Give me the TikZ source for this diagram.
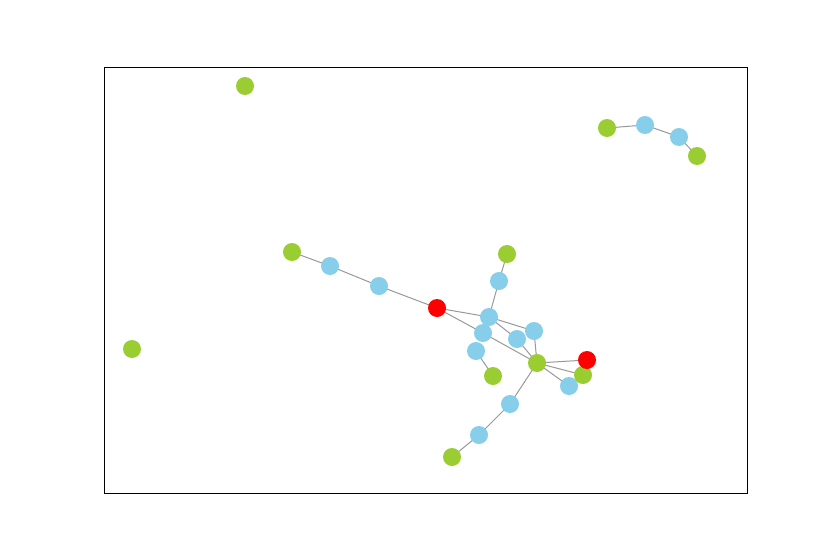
\documentclass[tikz,border=0pt]{standalone}
\definecolor{sky}{HTML}{87CEEB}
\definecolor{ygreen}{HTML}{9ACD32}
\definecolor{edgegray}{HTML}{999999}
\tikzset{
  nb/.style={circle,fill=sky,draw=none,minimum size=18pt,inner sep=0pt},
  ng/.style={circle,fill=ygreen,draw=none,minimum size=18pt,inner sep=0pt},
  nr/.style={circle,fill=red,draw=none,minimum size=18pt,inner sep=0pt},
  edge/.style={draw=edgegray,line width=1pt}
}
\begin{document}
\begin{tikzpicture}[x=1pt,y=-1pt]
\useasboundingbox (0,0) rectangle (830,554);
\fill[white] (0,0) rectangle (830,554);
\draw[line width=0.8pt] (104,67) rectangle (747,493);
% coordinates
\coordinate (cG1) at (245,86);
\coordinate (cG2) at (607,128);
\coordinate (cB1) at (645,125);
\coordinate (cB2) at (679,137);
\coordinate (cG3) at (697,156);
\coordinate (cG4) at (292,252);
\coordinate (cB3) at (330,266);
\coordinate (cB4) at (379,286);
\coordinate (cR1) at (437,308);
\coordinate (cG5) at (132,349);
\coordinate (cG6) at (507,254);
\coordinate (cB5) at (499,281);
\coordinate (cB6) at (489,317);
\coordinate (cB7) at (483,333);
\coordinate (cB8) at (476,351);
\coordinate (cG7) at (493,376);
\coordinate (cB9) at (517,339);
\coordinate (cB10) at (534,331);
\coordinate (cG8) at (537,363);
\coordinate (cR2) at (587,360);
\coordinate (cG9) at (583,375);
\coordinate (cB11) at (569,386);
\coordinate (cB12) at (510,404);
\coordinate (cB13) at (479,435);
\coordinate (cG10) at (452,457);
% edges
\draw[edge] (cG2) -- (cB1) -- (cB2) -- (cG3);
\draw[edge] (cG4) -- (cB3) -- (cB4) -- (cR1);
\draw[edge] (cR1) -- (cB6);
\draw[edge] (cR1) -- (cB7);
\draw[edge] (cB7) -- (cG8);
\draw[edge] (cB6) -- (cB5) -- (cG6);
\draw[edge] (cB6) -- (cB10);
\draw[edge] (cB6) -- (cB9);
\draw[edge] (cB9) -- (cG8);
\draw[edge] (cB10) -- (cG8);
\draw[edge] (cB8) -- (cG7);
\draw[edge] (cG8) -- (cR2);
\draw[edge] (cG8) -- (cG9);
\draw[edge] (cG8) -- (cB11);
\draw[edge] (cG8) -- (cB12) -- (cB13) -- (cG10);
% nodes
\node[ng] (G1) at (cG1) {};
\node[ng] (G2) at (cG2) {};
\node[nb] (B1) at (cB1) {};
\node[nb] (B2) at (cB2) {};
\node[ng] (G3) at (cG3) {};
\node[ng] (G4) at (cG4) {};
\node[nb] (B3) at (cB3) {};
\node[nb] (B4) at (cB4) {};
\node[nr] (R1) at (cR1) {};
\node[ng] (G5) at (cG5) {};
\node[ng] (G6) at (cG6) {};
\node[nb] (B5) at (cB5) {};
\node[nb] (B6) at (cB6) {};
\node[nb] (B7) at (cB7) {};
\node[nb] (B8) at (cB8) {};
\node[ng] (G7) at (cG7) {};
\node[nb] (B9) at (cB9) {};
\node[nb] (B10) at (cB10) {};
\node[ng] (G8) at (cG8) {};
\node[nb] (B11) at (cB11) {};
\node[ng] (G9) at (cG9) {};
\node[nr] (R2) at (cR2) {};
\node[nb] (B12) at (cB12) {};
\node[nb] (B13) at (cB13) {};
\node[ng] (G10) at (cG10) {};
\end{tikzpicture}
\end{document}
